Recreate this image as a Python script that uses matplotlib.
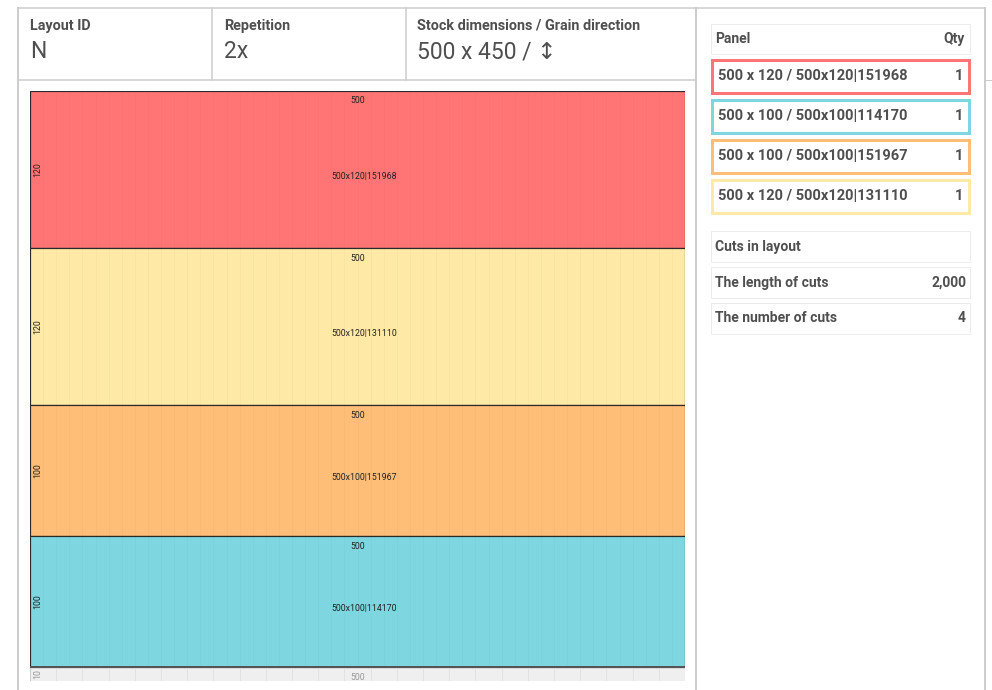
import matplotlib as mpl
mpl.use('Agg')
from matplotlib import pyplot as plt
from matplotlib.patches import Rectangle

plt.rcParams['font.family'] = ['Roboto', 'DejaVu Sans']

# stock sheet
stock_w = 500
stock_h = 450
grain_step = 10

# panels as laid out from top to bottom
panel_w = [500, 500, 500, 500]
panel_h = [120, 120, 100, 100]
panel_id = ['151968', '131110', '151967', '114170']
panel_color = ['#FF7575', '#FFE9A6', '#FFBE78', '#7ED7E0']
waste_h = 10

# header cells
header_titles = ['Layout ID', 'Repetition', 'Stock dimensions / Grain direction']
header_values = ['N', '2x', '500 x 450 / \u2195']

# parts list (right side)
list_w = [500, 500, 500, 500]
list_h = [120, 100, 100, 120]
list_id = ['151968', '114170', '151967', '131110']
list_qty = [1, 1, 1, 1]
list_color = ['#FF7575', '#7ED7E0', '#FFBE78', '#FFE9A6']

cut_labels = ['The length of cuts', 'The number of cuts']
cut_values = ['2,000', '4']

txt = '#4f4f4f'
line = '#cccccc'

fig = plt.figure(figsize=(9.92, 6.9), dpi=100)
bg = fig.add_axes([0, 0, 1, 1])
bg.set_xlim(0, 992)
bg.set_ylim(690, 0)
bg.axis('off')

px = 0.72
# card frames
bg.plot([18, 985], [8, 8], color=line, lw=1.5 * px)
bg.plot([18, 18], [8, 690], color=line, lw=2 * px)
bg.plot([696, 696], [8, 690], color=line, lw=2 * px)
bg.plot([985, 985], [8, 690], color=line, lw=2 * px)
bg.plot([18, 696], [80, 80], color=line, lw=1.5 * px)
bg.plot([985, 992], [80, 80], color=line, lw=1 * px)
for xd in [212, 406]:
    bg.plot([xd, xd], [8, 80], color=line, lw=1.5 * px)

# header texts
for x0, t, v in zip([30, 224, 417], header_titles, header_values):
    bg.text(x0, 26, t, fontsize=10.4, fontweight='bold', color=txt, va='center', ha='left')
    bg.text(x0, 52, v, fontsize=16.5, color=txt, va='center', ha='left')

# parts table
bg.add_patch(Rectangle((711, 24), 259, 30, fill=False, ec='#ececec', lw=1 * px))
bg.text(715, 39, 'Panel', fontsize=10, fontweight='bold', color=txt, va='center')
bg.text(965, 39, 'Qty', fontsize=10, fontweight='bold', color=txt, va='center', ha='right')
for i in range(len(list_id)):
    y0 = 60 + i * 40
    bg.add_patch(Rectangle((712, y0), 257, 33, fill=False, ec=list_color[i], lw=3 * px))
    lab = '%d x %d / %dx%d|%s' % (list_w[i], list_h[i], list_w[i], list_h[i], list_id[i])
    bg.text(718, y0 + 16.5, lab, fontsize=10.5, fontweight='bold', color=txt, va='center')
    bg.text(963, y0 + 16.5, str(list_qty[i]), fontsize=10.5, fontweight='bold', color=txt,
            va='center', ha='right')

# cuts table
bg.add_patch(Rectangle((711, 231), 259, 31, fill=False, ec='#ececec', lw=1 * px))
bg.text(715, 247, 'Cuts in layout', fontsize=10, fontweight='bold', color=txt, va='center')
for i in range(len(cut_labels)):
    y0 = 267 + i * 36
    bg.add_patch(Rectangle((711, y0), 259, 31, fill=False, ec='#ececec', lw=1 * px))
    bg.text(715, y0 + 15.5, cut_labels[i], fontsize=10, fontweight='bold', color=txt, va='center')
    bg.text(966, y0 + 15.5, cut_values[i], fontsize=10, fontweight='bold', color=txt,
            va='center', ha='right')

# stock layout drawing
scale = 655 / stock_w
ax = fig.add_axes([30 / 992, (690 - 91 - stock_h * scale) / 690,
                   655 / 992, stock_h * scale / 690])
ax.set_xlim(0, stock_w)
ax.set_ylim(stock_h, 0)
ax.axis('off')

fs = 6.3
y = 0
for w, h, pid, c in zip(panel_w, panel_h, panel_id, panel_color):
    ax.bar(0, h, width=w, bottom=y, align='edge', color=c, edgecolor='#2a2a2a',
           linewidth=1.2 * px, zorder=1)
    for gx in range(grain_step, w, grain_step):
        ax.plot([gx, gx], [y, y + h], color='black', alpha=0.02, lw=0.8, zorder=2)
    ax.text(w / 2, y + 7.5, str(w), fontsize=fs, ha='center', va='center', color='#222', zorder=3)
    ax.text(6, y + h / 2, str(h), fontsize=fs, rotation=90, ha='center', va='center',
            color='#222', zorder=3)
    ax.text(w / 2 + 5, y + h / 2 + 5, '%dx%d|%s' % (w, h, pid), fontsize=fs, ha='center',
            va='center', color='#222', zorder=3)
    y += h

# waste strip
ax.bar(0, waste_h, width=stock_w, bottom=y, align='edge', color='#efefef',
       edgecolor='#cccccc', linewidth=1 * px, zorder=0)
for gx in range(grain_step * 2, stock_w, grain_step * 2):
    ax.plot([gx, gx], [y, y + waste_h], color='#e0e0e0', lw=0.6, zorder=1)
ax.plot([0, stock_w], [y, y], color='#555555', lw=2 * px, zorder=4)
ax.text(6, y + waste_h / 2, str(waste_h), fontsize=fs, rotation=90, ha='center', va='center',
        color='#999999')
ax.text(stock_w / 2, y + 7.5, str(stock_w), fontsize=fs, ha='center', va='center',
        color='#999999')

plt.savefig('out.png', dpi=100)
